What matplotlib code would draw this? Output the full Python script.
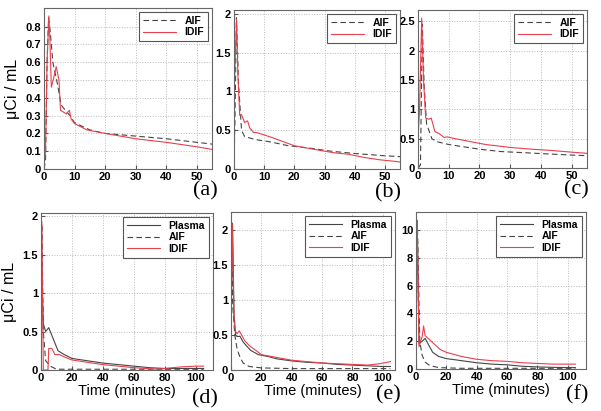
import numpy as np
import matplotlib
matplotlib.use('Agg')
import matplotlib.pyplot as plt

plt.rcParams['font.family'] = ['Liberation Sans', 'DejaVu Sans']

## Dati
# (a)
ta_aif = [0, 0.5, 1.0, 1.5, 2.0, 2.9, 3.5, 4.5, 5.6, 7.0, 8.5, 10, 15, 20, 30, 40, 50, 55]
ya_aif = [0, 0.05, 0.6, 0.85, 0.78, 0.6, 0.55, 0.47, 0.36, 0.33, 0.3, 0.26, 0.22, 0.2, 0.185, 0.17, 0.15, 0.14]
ta_idif = [0, 0.5, 1.0, 1.6, 1.9, 2.4, 3.0, 4.0, 4.9, 5.4, 7.3, 8.3, 8.9, 10, 14, 20, 30, 40, 50, 55]
ya_idif = [0.02, 0.1, 0.6, 0.86, 0.74, 0.46, 0.5, 0.575, 0.5, 0.33, 0.31, 0.33, 0.28, 0.255, 0.22, 0.2, 0.17, 0.15, 0.125, 0.11]
# (b)
tb_aif = [0, 0.3, 0.8, 1.5, 2.5, 3.5, 7, 12, 18, 25, 32, 40, 50, 55]
yb_aif = [0.1, 0.6, 1.95, 1.1, 0.5, 0.42, 0.38, 0.35, 0.3, 0.27, 0.23, 0.2, 0.17, 0.16]
tb_idif = [0.1, 0.3, 0.85, 1.3, 1.9, 2.5, 3.5, 4.5, 5.2, 6.5, 7.5, 10, 13, 20, 27, 33, 38, 43, 48, 53, 55]
yb_idif = [1.0, 1.3, 1.93, 1.2, 0.69, 0.7, 0.6, 0.62, 0.53, 0.47, 0.47, 0.44, 0.4, 0.3, 0.25, 0.21, 0.19, 0.15, 0.12, 0.1, 0.09]
# (c)
tc_aif = [0, 0.8, 1.4, 2.0, 2.8, 4.5, 6, 10, 15, 20, 27, 35, 42, 50, 55]
yc_aif = [0, 0.05, 2.45, 1.4, 0.75, 0.5, 0.45, 0.4, 0.36, 0.32, 0.28, 0.26, 0.24, 0.22, 0.21]
tc_idif = [0, 0.5, 1.2, 1.8, 2.5, 3.5, 4.3, 5.5, 7, 8.5, 9.5, 12, 17, 22, 30, 37, 43, 50, 55]
yc_idif = [0.48, 1.0, 2.55, 1.5, 0.85, 0.83, 0.85, 0.62, 0.58, 0.52, 0.53, 0.5, 0.45, 0.4, 0.35, 0.32, 0.3, 0.27, 0.25]
# (d)
td_pl = [0.3, 0.6, 1.5, 3, 5, 8, 11, 15, 20, 30, 40, 50, 60, 70, 80, 100, 105]
yd_pl = [1.9, 1.2, 0.6, 0.5, 0.55, 0.4, 0.25, 0.2, 0.15, 0.12, 0.09, 0.07, 0.05, 0.03, 0.02, 0.02, 0.02]
td_aif = [0, 0.5, 1.5, 3, 6, 10, 20, 40, 60, 80, 105]
yd_aif = [0.2, 1.9, 0.5, 0.12, 0.05, 0.01, 0.01, 0.01, 0.01, 0.01, 0.01]
td_idif = [0, 0.5, 1.5, 4.5, 5, 7, 9, 12, 15, 20, 30, 40, 50, 60, 75, 80, 90, 100, 105]
yd_idif = [0.3, 1.93, 0.0, 0.0, 0.28, 0.28, 0.2, 0.2, 0.17, 0.13, 0.1, 0.07, 0.05, 0.03, 0.01, 0.02, 0.04, 0.05, 0.05]
# (e)
te_pl = [0, 1, 2, 3, 4, 6, 8, 10, 13, 18, 25, 30, 40, 50, 60, 70, 80, 90, 100, 105]
ye_pl = [0.6, 2.1, 0.8, 0.5, 0.48, 0.48, 0.4, 0.35, 0.28, 0.22, 0.19, 0.16, 0.13, 0.11, 0.1, 0.08, 0.07, 0.06, 0.05, 0.05]
te_aif = [0, 0.6, 1.2, 2.5, 4, 6, 8, 12, 20, 40, 60, 80, 105]
ye_aif = [0.2, 1.5, 0.9, 0.5, 0.3, 0.18, 0.1, 0.05, 0.03, 0.02, 0.02, 0.02, 0.02]
te_idif = [0, 0.8, 2, 3, 4, 5.5, 7, 9, 12, 17, 20, 30, 40, 50, 60, 70, 80, 90, 98, 105]
ye_idif = [0.8, 2.1, 0.7, 0.55, 0.52, 0.56, 0.5, 0.42, 0.35, 0.27, 0.22, 0.18, 0.14, 0.12, 0.1, 0.09, 0.08, 0.07, 0.09, 0.12]
# (f)
tf_pl = [0, 0.8, 2, 4, 6, 8, 11, 15, 20, 30, 40, 50, 60, 70, 80, 90, 100, 105]
yf_pl = [4.5, 10.7, 1.8, 2.0, 2.2, 1.8, 1.2, 0.9, 0.75, 0.6, 0.45, 0.35, 0.3, 0.2, 0.15, 0.12, 0.1, 0.1]
tf_aif = [0, 1, 2.5, 4, 6, 9, 15, 30, 60, 105]
yf_aif = [1.0, 10.0, 2.0, 1.0, 0.5, 0.25, 0.1, 0.05, 0.05, 0.05]
tf_idif = [0, 0.8, 2, 3, 4, 5, 6, 8, 12, 16, 20, 30, 40, 50, 60, 70, 80, 90, 100, 105]
yf_idif = [5.0, 10.7, 1.6, 2.0, 2.3, 3.1, 2.4, 2.2, 1.8, 1.4, 1.2, 0.9, 0.7, 0.6, 0.55, 0.45, 0.4, 0.35, 0.35, 0.35]

panels = ['(a)', '(b)', '(c)', '(d)', '(e)', '(f)']

red = '#e8404c'
gray = '#444444'

fig = plt.figure(figsize=(6.01, 4.11), dpi=100)

def px(l, t, r, b):
    return [l/601, 1-b/411, (r-l)/601, (b-t)/411]

ax_pos = [px(44, 8, 212, 169), px(234, 10, 400, 169), px(418, 10, 587, 168),
          px(41, 213, 213, 370), px(231, 212, 395, 370), px(416, 212, 586, 369)]
xlims = [55, 55, 55, 111, 108, 112]
ylims = [0.905, 2.05, 2.69, 2.04, 2.26, 11.3]
yticks = [np.arange(0, 0.81, 0.1), [0, 0.5, 1, 1.5, 2], [0, 0.5, 1, 1.5, 2, 2.5],
          [0, 0.5, 1, 1.5, 2], [0, 0.5, 1, 1.5, 2], [0, 2, 4, 6, 8, 10]]
ylabs = [['0', '0.1', '0.2', '0.3', '0.4', '0.5', '0.6', '0.7', '0.8'],
         ['0', '0.5', '1', '1.5', '2'], ['0', '0.5', '1', '1.5', '2', '2.5'],
         ['0', '0.5', '1', '1.5', '2'], ['0', '0.5', '1', '1.5', '2'],
         ['0', '2', '4', '6', '8', '10']]
plasma = [None, None, None, (td_pl, yd_pl), (te_pl, ye_pl), (tf_pl, yf_pl)]
aif = [(ta_aif, ya_aif), (tb_aif, yb_aif), (tc_aif, yc_aif),
       (td_aif, yd_aif), (te_aif, ye_aif), (tf_aif, yf_aif)]
idif = [(ta_idif, ya_idif), (tb_idif, yb_idif), (tc_idif, yc_idif),
        (td_idif, yd_idif), (te_idif, ye_idif), (tf_idif, yf_idif)]
lab_pos = [(205, 191), (388, 193), (576, 190), (205, 399), (388, 395), (577, 395)]

for i in range(6):
    ax = fig.add_axes(ax_pos[i])
    if plasma[i] is not None:
        ax.plot(*plasma[i], color=gray, lw=0.8, label='Plasma')
    ax.plot(*aif[i], color=gray, lw=0.8, ls=(0, (5, 3)), label='AIF')
    ax.plot(*idif[i], color=red, lw=0.8, label='IDIF')
    ax.set_xlim(0, xlims[i])
    ax.set_ylim(0, ylims[i])
    if i < 3:
        ax.set_xticks(range(0, 51, 10))
    else:
        ax.set_xticks(range(0, 101, 20))
    ax.set_yticks(yticks[i])
    ax.set_yticklabels(ylabs[i])
    ax.grid(True, ls=':', color='#bbbbbb', lw=0.7)
    ax.tick_params(direction='in', length=3, labelsize=8, pad=2, color='#555555')
    for lb in ax.get_xticklabels() + ax.get_yticklabels():
        lb.set_fontweight('bold')
    for s in ax.spines.values():
        s.set_color('#666666')
        s.set_linewidth(0.8)
    leg = ax.legend(loc='upper right', prop={'weight': 'bold', 'size': 7.5},
                    fancybox=False, framealpha=1, borderaxespad=0.4,
                    handlelength=3.2, labelspacing=0.15, borderpad=0.35)
    leg.get_frame().set_edgecolor('#555555')
    leg.get_frame().set_linewidth(0.8)
    for t in leg.get_texts():
        t.set_fontweight('bold')
        t.set_ha('right')
    leg._legend_box.align = 'right'
    if i in (0, 3):
        ax.set_ylabel('μCi / mL', fontsize=11.5, labelpad=4)
    if i >= 3:
        ax.set_xlabel('Time (minutes)', fontsize=10.5, labelpad=1)
    fig.text(lab_pos[i][0]/601, 1-lab_pos[i][1]/411, panels[i], family='Liberation Serif',
             fontsize=16, ha='center', va='center')

plt.savefig('out.png', dpi=100)
